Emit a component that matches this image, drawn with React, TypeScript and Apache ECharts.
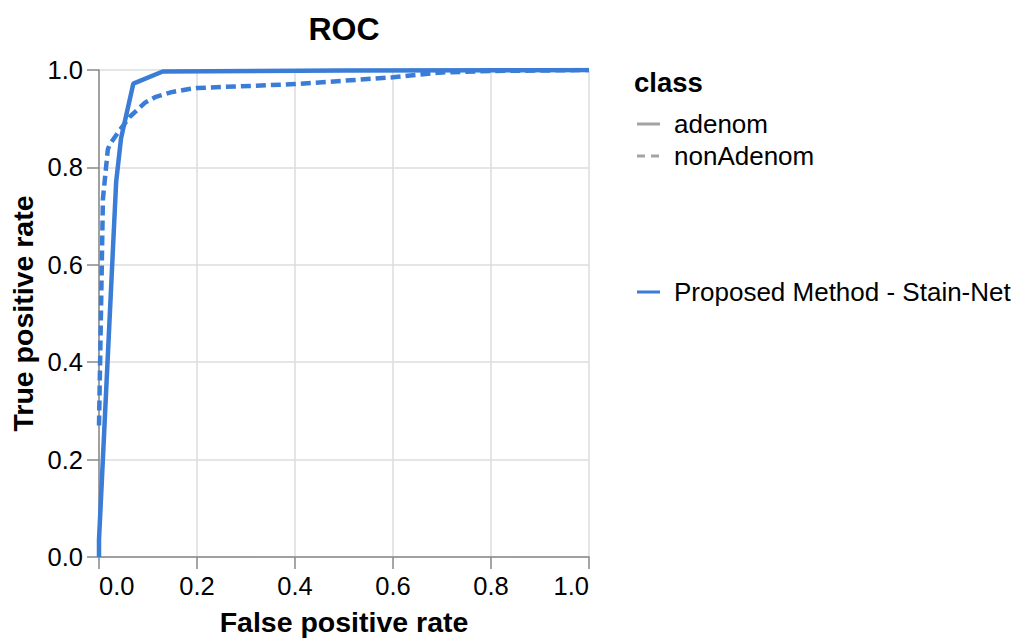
import React, { useEffect, useRef } from "react";
import * as echarts from "echarts";

// ROC curve points (false positive rate, true positive rate)
const adenomFpr = [0, 0, 0.035, 0.045, 0.07, 0.13, 0.5, 1];
const adenomTpr = [0, 0.035, 0.77, 0.86, 0.972, 0.997, 0.999, 1];

const nonAdenomFpr = [0, 0.004, 0.008, 0.018, 0.022, 0.039, 0.063, 0.094, 0.116, 0.15, 0.184, 0.2, 0.4, 0.6, 0.7, 0.8, 1];
const nonAdenomTpr = [0.27, 0.5, 0.735, 0.837, 0.847, 0.872, 0.904, 0.933, 0.945, 0.955, 0.961, 0.963, 0.971, 0.985, 0.995, 0.998, 1];

const xTicks = [0, 0.2, 0.4, 0.6, 0.8, 1.0];
const yTicks = [0, 0.2, 0.4, 0.6, 0.8, 1.0];

const classNames = ["adenom", "nonAdenom"];
const methodName = "Proposed Method - Stain-Net";

const BLUE = "#3b7dd6";
const GREY = "#a3a3a3";
const FONT = "'Liberation Sans', Arial, Helvetica, sans-serif";

const zip = (xs: number[], ys: number[]) => xs.map((x, i) => [x, ys[i]]);

export default function App() {
  const ref = useRef<HTMLDivElement>(null);

  useEffect(() => {
    if (!ref.current) return;
    const chart = echarts.init(ref.current, undefined, { renderer: "svg" });

    const axisCommon = {
      type: "value" as const,
      min: xTicks[0],
      max: xTicks[xTicks.length - 1],
      interval: 0.2,
      nameLocation: "middle" as const,
      nameTextStyle: { fontFamily: FONT, fontSize: 28.5, fontWeight: "bold" as const, color: "#000" },
      axisLine: { show: true, onZero: false, lineStyle: { color: "#888", width: 1.5 } },
      axisTick: { show: true, length: 12, lineStyle: { color: "#888", width: 1.5 } },
      splitLine: { show: true, lineStyle: { color: "#ddd", width: 1.5 } },
      axisLabel: {
        fontFamily: FONT,
        fontSize: 25.5,
        color: "#000",
        formatter: (v: number) => v.toFixed(1),
      },
    };

    const legendTextStyle = { fontFamily: FONT, fontSize: 26, fill: "#000" };

    chart.setOption({
      animation: false,
      backgroundColor: "#fff",
      grid: { left: 99, top: 70, width: 490, height: 491, containLabel: false },
      xAxis: {
        ...axisCommon,
        name: "False positive rate",
        nameGap: 50,
        axisLabel: { ...axisCommon.axisLabel, margin: 16, alignMinLabel: "left", alignMaxLabel: "right" },
      },
      yAxis: {
        ...axisCommon,
        min: yTicks[0],
        max: yTicks[yTicks.length - 1],
        name: "True positive rate",
        nameGap: 62,
        axisLabel: { ...axisCommon.axisLabel, margin: 16 },
      },
      series: [
        {
          name: classNames[0],
          type: "line",
          data: zip(adenomFpr, adenomTpr),
          showSymbol: false,
          symbol: "none",
          lineStyle: { color: BLUE, width: 4.5, type: "solid" },
          z: 3,
        },
        {
          name: classNames[1],
          type: "line",
          data: zip(nonAdenomFpr, nonAdenomTpr),
          showSymbol: false,
          symbol: "none",
          lineStyle: { color: BLUE, width: 4.5, type: [10, 5] },
          z: 2,
        },
      ],
      graphic: [
        {
          type: "text",
          x: 344,
          y: 29,
          style: {
            text: "ROC",
            fontFamily: FONT,
            fontSize: 32,
            fontWeight: "bold",
            fill: "#000",
            textAlign: "center",
            textVerticalAlign: "middle",
          },
        },
        {
          type: "text",
          x: 634,
          y: 82,
          style: {
            text: "class",
            fontFamily: FONT,
            fontSize: 27.5,
            fontWeight: "bold",
            fill: "#000",
            textVerticalAlign: "middle",
          },
        },
        {
          type: "line",
          shape: { x1: 637, y1: 124, x2: 660, y2: 124 },
          style: { stroke: GREY, lineWidth: 3 },
        },
        {
          type: "text",
          x: 674,
          y: 124,
          style: { ...legendTextStyle, text: classNames[0], textVerticalAlign: "middle" },
        },
        {
          type: "line",
          shape: { x1: 637, y1: 156, x2: 660, y2: 156 },
          style: { stroke: GREY, lineWidth: 3, lineDash: [8, 6] },
        },
        {
          type: "text",
          x: 674,
          y: 156,
          style: { ...legendTextStyle, text: classNames[1], textVerticalAlign: "middle" },
        },
        {
          type: "line",
          shape: { x1: 637, y1: 292, x2: 660, y2: 292 },
          style: { stroke: BLUE, lineWidth: 3 },
        },
        {
          type: "text",
          x: 674,
          y: 292,
          style: { ...legendTextStyle, text: methodName, textVerticalAlign: "middle" },
        },
      ],
    });

    return () => chart.dispose();
  }, []);

  return (
    <div
      ref={ref}
      style={{ position: "absolute", left: 0, top: 0, width: 1016, height: 641 }}
    />
  );
}
